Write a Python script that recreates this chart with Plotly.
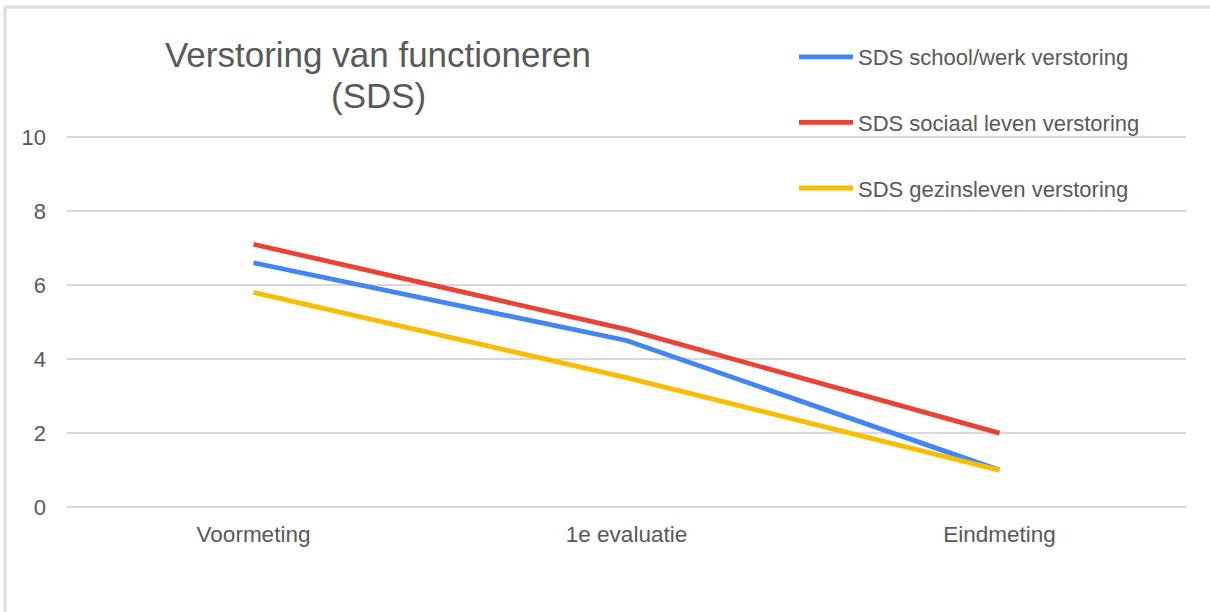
import plotly.graph_objects as go

categories = ["Voormeting", "1e evaluatie", "Eindmeting"]
school_werk = [6.6, 4.5, 1.0]
sociaal_leven = [7.1, 4.8, 2.0]
gezinsleven = [5.8, 3.5, 1.0]
series_names = ["SDS school/werk verstoring", "SDS sociaal leven verstoring", "SDS gezinsleven verstoring"]
series_colors = ["#4285F4", "#EA4335", "#FBBC04"]
y_ticks = [0, 2, 4, 6, 8, 10]
title_line1 = "Verstoring van functioneren"
title_line2 = "(SDS)"

FONT = "Arial, 'Liberation Sans', sans-serif"
TXT = "#595959"

W, H = 1210, 612
L, R, T, B = 67, 24, 135, 103
PW, PH = W - L - R, H - T - B

fig = go.Figure()
for i, (name, vals, col) in enumerate(zip(series_names, [school_werk, sociaal_leven, gezinsleven], series_colors)):
    fig.add_trace(go.Scatter(
        x=categories, y=vals, name=name, mode="lines",
        line=dict(color=col, width=4.8),
        legendgroup=f"g{i}",
    ))

fig.update_layout(
    width=W, height=H,
    paper_bgcolor="white", plot_bgcolor="white",
    margin=dict(l=L, r=R, t=T, b=B, autoexpand=False),
    font=dict(family=FONT, color=TXT),
    title=dict(
        text=title_line1,
        font=dict(size=35, color=TXT, family=FONT),
        xref="container", x=378 / W, xanchor="center",
        yref="container", y=1 - 55 / H, yanchor="middle",
    ),
    xaxis=dict(
        type="category", range=[-0.5, 2.5],
        showgrid=False, showline=False, zeroline=False,
        ticks="", tickfont=dict(size=22.5, color=TXT),
        ticklabelstandoff=9,
    ),
    yaxis=dict(
        range=[-0.05, 10.05], tickvals=y_ticks,
        showgrid=True, gridcolor="#d9d9d9", gridwidth=1.5,
        zeroline=False, showline=False,
        ticks="", tickfont=dict(size=22, color=TXT),
        ticklabelstandoff=20,
    ),
    legend=dict(
        x=794 / W, xref="container", xanchor="left",
        y=1 - 36 / H, yref="container", yanchor="top",
        font=dict(size=22, color=TXT, family=FONT),
        itemwidth=54, tracegroupgap=34,
        bgcolor="rgba(0,0,0,0)", borderwidth=0,
    ),
    showlegend=True,
)

fig.add_annotation(
    text=title_line2, xref="paper", yref="paper",
    x=(378 - L) / PW, y=1 + (T - 95) / PH,
    xanchor="center", yanchor="middle", showarrow=False,
    font=dict(size=35, color=TXT, family=FONT),
)

# outer chart frame (top and left edges visible)
fx0 = (5 - L) / PW
fx1 = 1 + (R + 5) / PW
fy_top = 1 + (T - 7) / PH
fy_bot = -(B + 5) / PH
fig.add_shape(type="line", xref="paper", yref="paper",
              x0=fx0, x1=fx1, y0=fy_top, y1=fy_top,
              line=dict(color="#dcdcdc", width=3), layer="below")
fig.add_shape(type="line", xref="paper", yref="paper",
              x0=fx0, x1=fx0, y0=fy_top, y1=fy_bot,
              line=dict(color="#dcdcdc", width=3), layer="below")

fig.write_html("out.html", config={"displayModeBar": False},
               post_script="document.body.style.margin='0';")
